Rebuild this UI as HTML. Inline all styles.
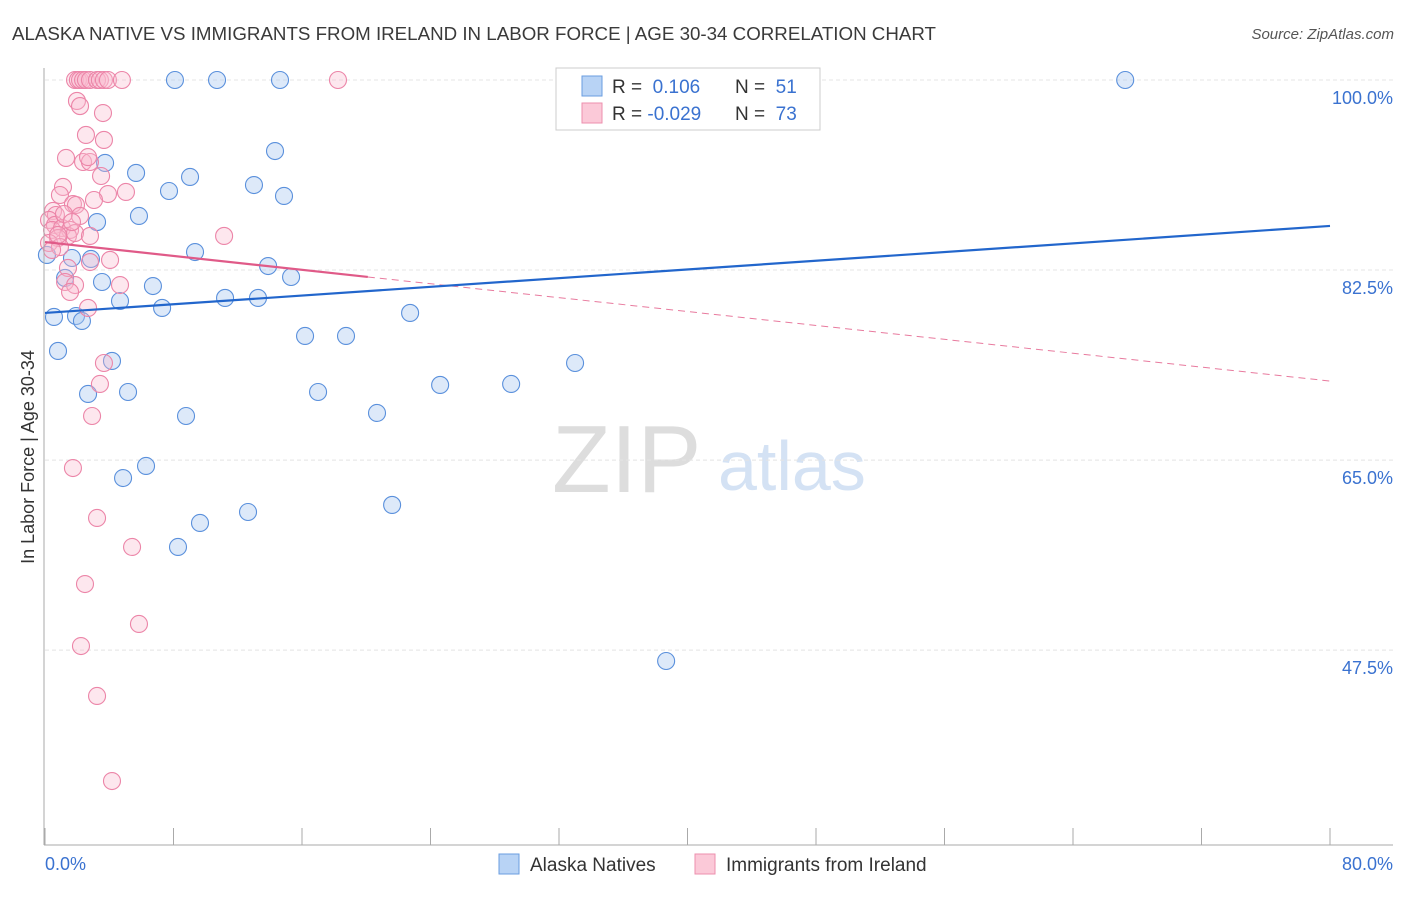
<!DOCTYPE html>
<html><head><meta charset="utf-8"><style>
body{margin:0;background:#fff;font-family:"Liberation Sans",sans-serif}
svg text{font-family:"Liberation Sans",sans-serif}
</style></head><body>
<svg id="c" width="1406" height="892" xmlns="http://www.w3.org/2000/svg">
<text x="12" y="40" font-size="18" fill="#3a3a3a" textLength="924" lengthAdjust="spacingAndGlyphs">ALASKA NATIVE VS IMMIGRANTS FROM IRELAND IN LABOR FORCE | AGE 30-34 CORRELATION CHART</text>
<text x="1394" y="39" font-size="15" fill="#555" text-anchor="end" font-style="italic">Source: ZipAtlas.com</text>
<text transform="translate(34,457) rotate(-90)" font-size="18" fill="#333" text-anchor="middle">In Labor Force | Age 30-34</text>
<g><text x="552" y="492" font-size="96" fill="#ddd" font-family="Liberation Serif,serif">ZIP</text><text x="718" y="490" font-size="70" fill="#d4e2f4">atlas</text></g>
<g id="grid"></g><g id="pts"></g><g id="trend"></g>
<line x1="44" y1="68" x2="44" y2="845" stroke="#aaa"/>
<line x1="44" y1="845" x2="1393" y2="845" stroke="#aaa"/>
<text x="45" y="870" font-size="18" fill="#3a72d0">0.0%</text>
<text x="1393" y="870" font-size="18" fill="#3a72d0" text-anchor="end">80.0%</text>
<g>
<rect x="556" y="68" width="264" height="62" fill="#fff" stroke="#ccc"/>
<rect x="582" y="76" width="20" height="20" fill="#b8d3f5" stroke="#6a9ee0"/>
<rect x="582" y="103" width="20" height="20" fill="#fbc9d8" stroke="#ec8fae"/>
<text x="612" y="93" font-size="19" fill="#333">R = <tspan fill="#3a72d0">&#160;0.106</tspan><tspan x="735">N = </tspan><tspan fill="#3a72d0">&#160;51</tspan></text>
<text x="612" y="120" font-size="19" fill="#333">R = <tspan fill="#3a72d0">-0.029</tspan><tspan x="735">N = </tspan><tspan fill="#3a72d0">&#160;73</tspan></text>
</g>
<g>
<rect x="499" y="854" width="20" height="20" fill="#b8d3f5" stroke="#6a9ee0"/>
<text x="530" y="871" font-size="19" fill="#333">Alaska Natives</text>
<rect x="695" y="854" width="20" height="20" fill="#fbc9d8" stroke="#ec8fae"/>
<text x="726" y="871" font-size="19" fill="#333">Immigrants from Ireland</text>
</g>
</svg>
<script>
const yTicks=[100,82.5,65,47.5];
const yTickLabels=["100.0%","82.5%","65.0%","47.5%"];
const xTicks=[0,8,16,24,32,40,48,56,64,72,80];
const blueX=[8.09,10.71,14.63,37.8,45.0,67.25,14.32,3.74,5.67,7.72,9.03,13.01,14.88,3.24,5.85,9.34,13.89,15.32,1.68,2.86,1.25,3.55,6.72,4.67,11.21,13.26,7.29,0.56,1.93,2.30,22.73,16.19,18.74,0.81,4.17,2.68,5.17,17.0,8.78,20.67,24.6,29.02,33.0,6.29,4.86,9.65,12.64,21.61,8.28,38.67,0.12];
const blueY=[100,100,100,100,100,100,93.46,92.36,91.44,89.78,91.07,90.33,89.32,86.92,87.48,84.16,82.87,81.86,83.61,83.52,81.77,81.40,81.03,79.65,79.93,79.93,79.01,78.18,78.27,77.81,78.55,76.43,76.43,75.05,74.13,71.09,71.27,71.27,69.06,69.34,71.92,72.01,73.94,64.46,63.35,59.21,60.22,60.87,57.0,46.5,83.89];
const pinkX=[1.87,2.05,2.18,2.37,2.55,2.8,3.24,3.42,3.67,3.92,4.79,18.24,1.99,2.18,3.61,3.67,2.55,1.31,2.37,2.8,2.68,3.49,3.92,5.04,1.12,0.93,1.74,3.05,1.93,0.5,0.68,0.25,0.62,0.44,1.06,1.56,1.43,0.81,1.87,2.8,0.25,0.93,11.15,4.05,1.43,2.8,1.25,4.67,1.87,1.56,2.68,3.67,3.42,2.93,1.74,3.24,5.42,2.49,5.85,2.24,3.24,4.17,0.81,0.44,1.18,2.18,1.68];
const pinkY=[100,100,100,100,100,100,100,100,100,100,100,100,98.07,97.6,96.96,94.48,94.94,92.82,92.45,92.45,92.9,91.16,89.5,89.69,90.15,89.41,88.58,88.95,88.49,87.94,87.57,87.11,86.65,86.19,86.37,86.19,85.64,85.45,85.91,85.64,84.99,84.62,85.64,83.43,82.69,83.24,81.4,81.12,81.12,80.48,79.01,73.94,72.01,69.06,64.27,59.67,57.0,53.59,49.91,47.88,43.28,35.45,85.73,84.35,87.66,87.48,86.92];
const blueLine=[78.55,86.56];
const pinkLine=[85.08,72.28];
const pinkSolidEnd=20.1;
const NS="http://www.w3.org/2000/svg";
const X=v=>45+v*(1285/80), Y=v=>80+(100-v)*10.86;
function mk(t,a,p){const e=document.createElementNS(NS,t);for(const k in a)e.setAttribute(k,a[k]);p.appendChild(e);return e;}
const grid=document.getElementById('grid');
yTicks.forEach((v,i)=>{
 const l=mk('line',{x1:45,x2:1393,y1:Y(v),y2:Y(v),stroke:'#e4e4e4','stroke-dasharray':'4,3'},grid);
 
 
 const t=mk('text',{x:1393,y:Y(v)+24,'font-size':18,fill:'#3a72d0','text-anchor':'end'},grid);
 t.textContent=yTickLabels[i];
 
 
});
xTicks.forEach(v=>{
 const l=mk('line',{x1:X(v),x2:X(v),y1:828,y2:845,stroke:'#aaa'},grid);
 
 
});
const pts=document.getElementById('pts');
blueX.forEach((x,i)=>{
 const c=mk('circle',{cx:X(x),cy:Y(blueY[i]),r:8.5,fill:'rgba(170,200,240,0.4)',stroke:'#5a90dc','stroke-width':1.1},pts);
 
 
});
pinkX.forEach((x,i)=>{
 const c=mk('circle',{cx:X(x),cy:Y(pinkY[i]),r:8.5,fill:'rgba(248,185,205,0.35)',stroke:'#ec85a8','stroke-width':1.1},pts);
 
 
});
const tr=document.getElementById('trend');
const pAt=x=>pinkLine[0]+(pinkLine[1]-pinkLine[0])*x/80;
let l=mk('line',{x1:X(0),y1:Y(pinkLine[0]),x2:X(pinkSolidEnd),y2:Y(pAt(pinkSolidEnd)),stroke:'#e05a88','stroke-width':2.2},tr);


l=mk('line',{x1:X(pinkSolidEnd),y1:Y(pAt(pinkSolidEnd)),x2:X(80),y2:Y(pinkLine[1]),stroke:'#e87a9e','stroke-width':1,'stroke-dasharray':'7,5'},tr);


l=mk('line',{x1:X(0),y1:Y(blueLine[0]),x2:X(80),y2:Y(blueLine[1]),stroke:'#2266cc','stroke-width':2.2},tr);


</script>
</body></html>
